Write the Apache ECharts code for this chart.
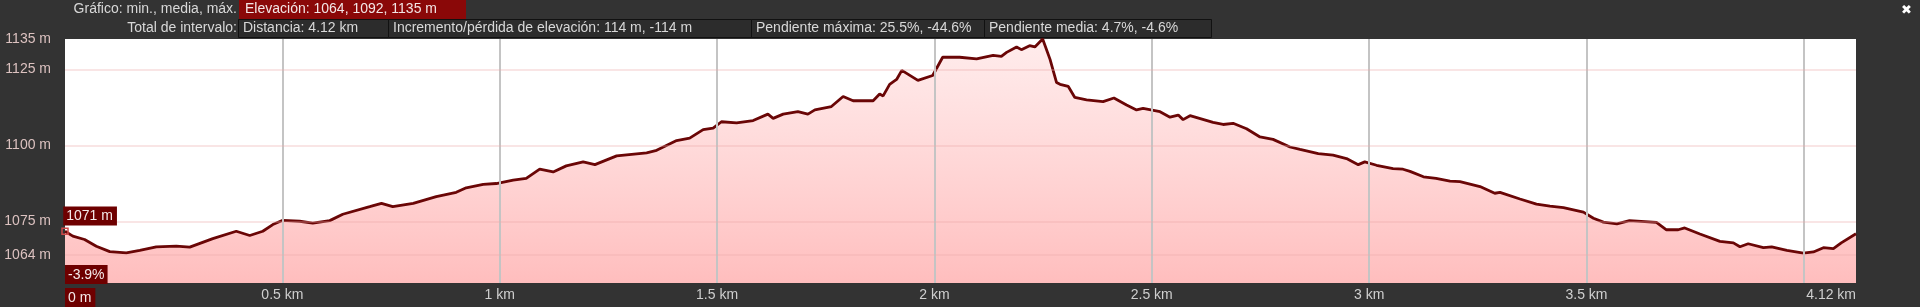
<!DOCTYPE html>
<html><head><meta charset="utf-8">
<script src="https://cdn.jsdelivr.net/npm/echarts@6/dist/echarts.min.js"></script>
<style>html,body{margin:0;padding:0;background:#333;}#c{width:1920px;height:307px;}</style>
</head><body><div id="c"></div>
<script>
const distKm = [0,0.018,0.045,0.072,0.103,0.141,0.172,0.210,0.256,0.287,
0.340,0.394,0.425,0.455,0.478,0.501,0.540,0.570,0.609,0.639,
0.701,0.728,0.754,0.801,0.854,0.900,0.923,0.962,0.992,1.031,
1.061,1.092,1.123,1.153,1.192,1.219,1.269,1.338,1.361,1.407,
1.437,1.468,1.491,1.510,1.545,1.583,1.617,1.629,1.652,1.686,
1.709,1.725,1.763,1.790,1.813,1.859,1.874,1.882,1.897,1.913,
1.925,1.962,1.996,2.019,2.058,2.097,2.135,2.154,2.166,2.189,
2.200,2.219,2.231,2.249,2.266,2.281,2.289,2.308,2.323,2.350,
2.388,2.413,2.442,2.465,2.480,2.519,2.542,2.561,2.572,2.588,
2.641,2.664,2.687,2.718,2.749,2.779,2.818,2.841,2.883,2.917,
2.948,2.975,2.990,3.017,3.055,3.078,3.094,3.125,3.154,3.186,
3.209,3.255,3.289,3.301,3.347,3.385,3.416,3.447,3.493,3.516,
3.539,3.570,3.599,3.661,3.684,3.711,3.726,3.761,3.807,3.838,
3.853,3.872,3.907,3.926,3.961,3.999,4.022,4.045,4.068,4.086,
4.12];
const elevM = [1071.8,1070.2,1069.1,1066.9,1065.1,1064.7,1065.5,1066.7,1066.9,1066.6,
1069.4,1071.8,1070.4,1071.8,1074.0,1075.4,1075.1,1074.5,1075.3,1077.4,
1079.9,1081.0,1079.9,1081.0,1083.2,1084.6,1086.1,1087.2,1087.5,1088.6,
1089.2,1092.2,1091.3,1093.3,1094.6,1093.7,1096.6,1097.6,1098.4,1101.6,
1102.4,1105.2,1105.7,1107.8,1107.4,1108.2,1110.3,1108.9,1110.3,1111.1,
1110.3,1111.7,1112.8,1116.1,1114.7,1114.7,1116.9,1116.3,1120.1,1121.7,
1124.7,1121.4,1123.0,1129.0,1129.0,1128.5,1129.6,1129.3,1130.6,1132.4,
1131.5,1132.8,1132.4,1135.0,1128.3,1120.7,1120.1,1119.4,1115.8,1115.0,
1114.4,1115.6,1113.3,1111.7,1112.2,1111.1,1109.3,1110.0,1108.5,1109.8,
1107.6,1106.9,1107.3,1105.5,1102.8,1102.0,1099.5,1098.7,1097.3,1096.8,
1095.7,1093.7,1094.6,1093.5,1092.4,1092.2,1091.5,1089.7,1089.2,1088.3,
1088.1,1086.5,1084.3,1084.6,1082.4,1080.7,1080.1,1079.6,1078.1,1076.1,
1074.8,1074.2,1075.3,1074.7,1072.3,1072.3,1072.9,1070.9,1068.5,1068.0,
1066.7,1067.7,1066.4,1066.7,1065.5,1064.6,1065.0,1066.4,1066.1,1068.0,
1071.0];
const yTickValues = [1064, 1075, 1100, 1125, 1135];
const yGridValues = [1064, 1075, 1100, 1125];
const xGridValues = [0.5, 1, 1.5, 2, 2.5, 3, 3.5, 4];
const totalKm = 4.12;
const cursorElev = '1071 m';
const cursorSlope = '-3.9%';
const headerRow1Label = 'Gráfico: min., media, máx.';
const headerRow1Box = 'Elevación: 1064, 1092, 1135 m';
const headerRow2Label = 'Total de intervalo:';
const headerRow2Boxes = ['Distancia: 4.12 km', 'Incremento/pérdida de elevación: 114 m, -114 m', 'Pendiente máxima: 25.5%, -44.6%', 'Pendiente media: 4.7%, -4.6%'];

const FONT = 'Arial, "Liberation Sans", sans-serif';
const chart = echarts.init(document.getElementById('c'), null, {renderer: 'canvas'});
const data = distKm.map((d, i) => [d, elevM[i]]);

const boxEdges = [238, 388, 751, 984, 1211];
const graphics = [
  {type: 'text', right: 1920 - 237, top: 2, style: {text: headerRow1Label, fill: '#d8d8d8', font: '14px ' + FONT}},
  {type: 'rect', shape: {x: 239, y: 0, width: 227, height: 19}, style: {fill: '#8a0808'}},
  {type: 'text', x: 245, y: 2, style: {text: headerRow1Box, fill: '#f2e6e6', font: '14px ' + FONT}},
  {type: 'text', right: 1920 - 237, top: 21, style: {text: headerRow2Label, fill: '#d8d8d8', font: '14px ' + FONT}},
  {type: 'text', x: 1901, y: 4, style: {text: '✖', fill: '#ffffff', font: 'bold 13px "DejaVu Sans"'}},
  {type: 'text', x: 65, y: 265, style: {text: cursorSlope, fill: '#f4eaea', font: '14px ' + FONT, backgroundColor: '#6e0000', padding: [3, 3, 2, 3]}, z: 100}
];
headerRow2Boxes.forEach((t, i) => {
  graphics.push({type: 'rect', shape: {x: boxEdges[i] + 0.5, y: 19.5, width: boxEdges[i + 1] - boxEdges[i], height: 18}, style: {fill: '#2c2c2c', stroke: '#111', lineWidth: 1}});
  graphics.push({type: 'text', x: boxEdges[i] + 5, y: 21, style: {text: t, fill: '#d8d8d8', font: '14px ' + FONT}});
});

chart.setOption({
  backgroundColor: '#333333',
  animation: false,
  grid: {left: 65, right: 64, top: 39, bottom: 22, show: true, backgroundColor: '#ffffff', borderWidth: 0},
  xAxis: {
    type: 'value', min: 0, max: totalKm, interval: 0.5,
    axisLine: {show: false}, axisTick: {show: false}, splitLine: {show: false},
    axisLabel: {
      color: '#cfcfcf', fontSize: 14, fontFamily: FONT, margin: 5,
      showMinLabel: true, showMaxLabel: true, alignMinLabel: 'left', alignMaxLabel: 'right',
      formatter: v => {
        if (v === 0) return '{z|0 m}';
        if (Math.abs(v - totalKm) < 1e-6) return totalKm + ' km';
        if (Math.abs(v - 4) < 1e-6) return '';
        return v + ' km';
      },
      rich: {z: {color: '#f4eaea', fontSize: 14, fontFamily: FONT, backgroundColor: '#6e0000', padding: [3, 4, 2, 3]}}
    }
  },
  yAxis: {
    type: 'value', min: 1054.8, max: 1135,
    axisLine: {show: false}, axisTick: {show: false}, splitLine: {show: false},
    axisLabel: {customValues: yTickValues, color: '#dcc2c0', fontSize: 14, fontFamily: FONT, margin: 14, formatter: v => String(Math.round(v)) + ' m'}
  },
  graphic: graphics,
  series: [
    {
      type: 'line', data: data, z: 1, symbol: 'none', silent: true,
      lineStyle: {opacity: 0},
      markLine: {
        silent: true, symbol: 'none', label: {show: false}, animation: false,
        data: [
          ...xGridValues.map(v => ({xAxis: v, lineStyle: {color: '#c4c4c4', width: 2, type: 'solid'}})),
          ...yGridValues.map(v => ({yAxis: v, lineStyle: {color: 'rgba(235,170,170,0.3)', width: 2, type: 'solid'}}))
        ]
      }
    },
    {
      type: 'line', data: data, z: 3, symbol: 'none', smooth: false,
      lineStyle: {color: '#6a0606', width: 2.8},
      areaStyle: {
        origin: 'start',
        color: new echarts.graphic.LinearGradient(0, 0, 0, 1, [
          {offset: 0, color: 'rgba(255,165,165,0.3)'},
          {offset: 1, color: 'rgba(255,135,135,0.78)'}
        ])
      },
      markPoint: {
        silent: true, animation: false,
        data: [{
          coord: data[0], symbol: 'rect', symbolSize: 6,
          itemStyle: {color: 'rgba(0,0,0,0)', borderColor: '#d04a4a', borderWidth: 1.5},
          label: {show: true, formatter: cursorElev, position: [2, -21], color: '#f4eaea', fontSize: 14, fontFamily: FONT, backgroundColor: '#6e0000', padding: [3, 4, 2, 3]}
        }]
      }
    }
  ]
});
</script></body></html>
